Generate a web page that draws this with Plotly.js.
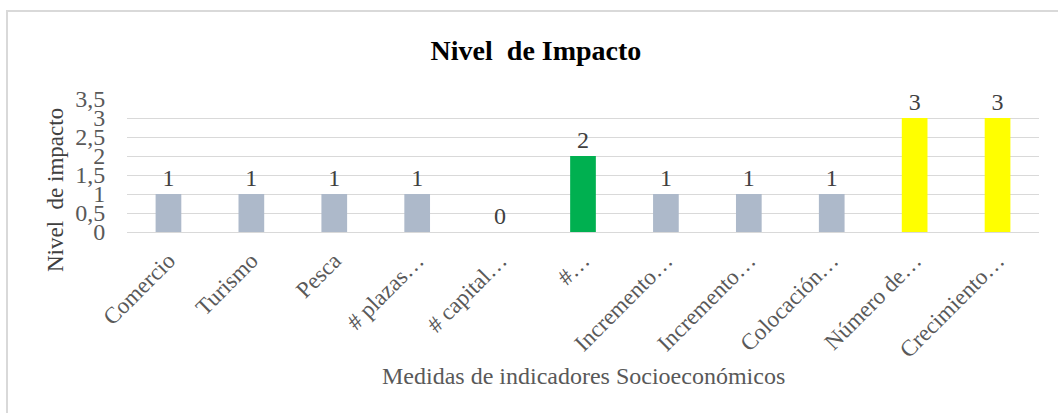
<!DOCTYPE html>
<html>
<head>
<meta charset="utf-8">
<script src="https://cdn.plot.ly/plotly-3.0.1.min.js"></script>
<style>
html,body{margin:0;padding:0;background:#fff;}
#wrap{position:relative;width:1058px;height:413px;overflow:hidden;}
#frame{position:absolute;left:6px;top:10px;width:1060px;height:420px;border-left:2px solid #d9d9d9;border-top:2px solid #d9d9d9;box-sizing:border-box;pointer-events:none;z-index:5;}
#chart{position:absolute;left:0;top:0;width:1058px;height:413px;}
</style>
</head>
<body>
<div id="wrap"><div id="chart"></div><div id="frame"></div></div>
<script>
const categories = ["Comercio","Turismo","Pesca","# plazas…","# capital…","#…","Incremento…","Incremento…","Colocación…","Número de…","Crecimiento…"];
const values = [1,1,1,1,0,2,1,1,1,3,3];
const barColors = ["#ADB9CA","#ADB9CA","#ADB9CA","#ADB9CA","#ADB9CA","#00B050","#ADB9CA","#ADB9CA","#ADB9CA","#FFFF00","#FFFF00"];
const yTickVals = [0,0.5,1,1.5,2,2.5,3,3.5];
const yTickText = ["0","0,5","1","1,5","2","2,5","3","3,5"];

const serif = "Liberation Serif, Times New Roman, serif";
const xIdx = categories.map((_, i) => i);

const trace = {
  type: "bar",
  x: xIdx,
  y: values,
  width: 0.31,
  marker: {color: barColors},
  text: values.map(v => String(v)),
  textposition: "outside",
  textfont: {family: serif, size: 24, color: "#404040"},
  cliponaxis: false,
  hoverinfo: "none"
};

const layout = {
  width: 1058, height: 413,
  margin: {l: 127, r: 19, t: 99, b: 181, pad: 0},
  paper_bgcolor: "#ffffff",
  plot_bgcolor: "#ffffff",
  showlegend: false,
  bargap: 0.69,
  title: {
    text: "<b>Nivel  de Impacto</b>",
    font: {family: serif, size: 28, color: "#000000"},
    x: 536/1058, xanchor: "center", xref: "container",
    y: 1 - 50/413, yanchor: "middle", yref: "container"
  },
  xaxis: {
    type: "linear",
    range: [-0.5, 10.5],
    tickmode: "array",
    tickvals: xIdx,
    ticktext: categories,
    tickangle: -45,
    tickfont: {family: serif, size: 23, color: "#595959"},
    showgrid: false,
    zeroline: false,
    showline: false,
    ticks: "outside",
    ticklen: 5,
    tickcolor: "rgba(0,0,0,0)",
    fixedrange: true
  },
  yaxis: {
    range: [0, 3.5],
    tickmode: "array",
    tickvals: yTickVals,
    ticktext: yTickText,
    tickfont: {family: serif, size: 24, color: "#595959"},
    showgrid: true,
    gridcolor: "#d9d9d9",
    gridwidth: 1,
    zeroline: true,
    zerolinecolor: "#d9d9d9",
    zerolinewidth: 1,
    showline: false,
    ticks: "outside",
    ticklen: 16,
    tickcolor: "rgba(0,0,0,0)",
    fixedrange: true
  },
  annotations: [
    {
      text: "Nivel  de impacto",
      textangle: -90,
      xref: "paper", yref: "paper",
      x: (55 - 127) / 912, y: (232 - 190) / 133,
      xanchor: "center", yanchor: "middle",
      showarrow: false,
      font: {family: serif, size: 23, color: "#404040"}
    },
    {
      text: "Medidas de indicadores Socioeconómicos",
      xref: "paper", yref: "paper",
      x: 0.5, y: (232 - 376) / 133,
      xanchor: "center", yanchor: "middle",
      showarrow: false,
      font: {family: serif, size: 24, color: "#595959"}
    }
  ]
};

Plotly.newPlot("chart", [trace], layout, {displayModeBar: false, staticPlot: true});
</script>
</body>
</html>
